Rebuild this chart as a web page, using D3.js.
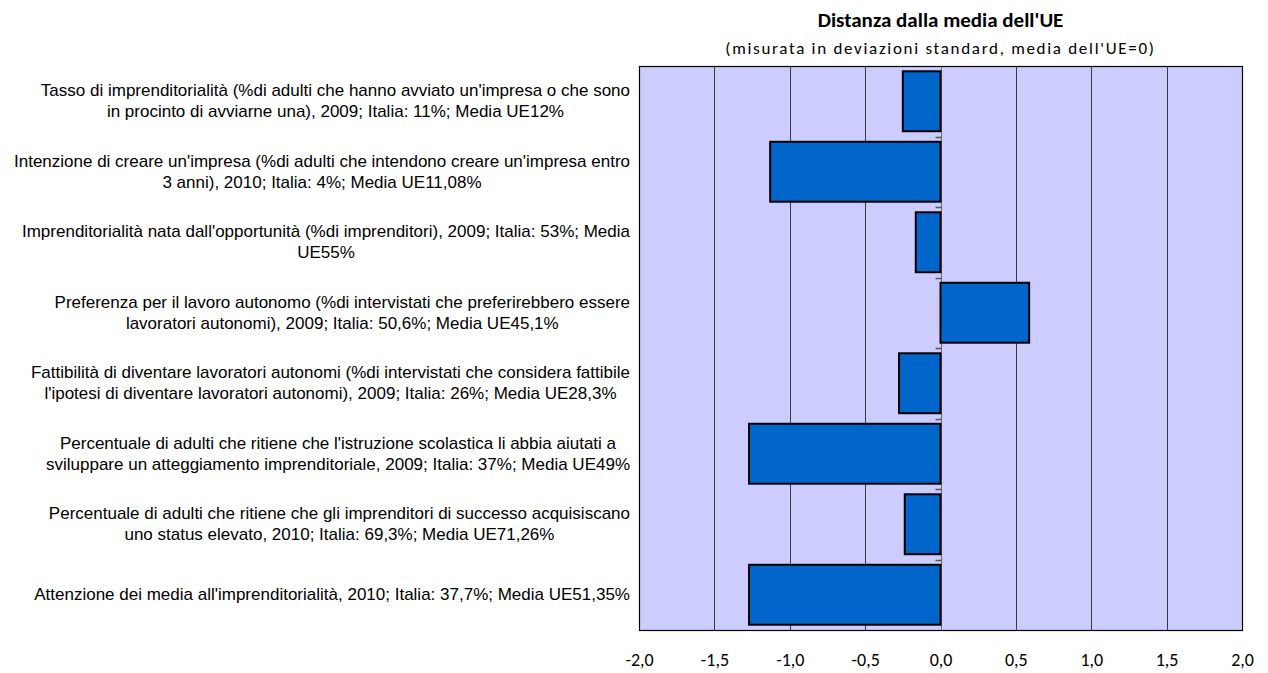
<!DOCTYPE html>
<html>
<head>
<meta charset="utf-8">
<script src="https://cdn.jsdelivr.net/npm/d3@7"></script>
<style>
  html, body { margin: 0; padding: 0; background: #ffffff; }
  svg { display: block; }
</style>
</head>
<body>
<svg id="chart" width="1268" height="673"></svg>
<script>
// ---- Data ----
const categories = [
  ["Tasso di imprenditorialità (%di adulti che hanno avviato un'impresa o che sono", "in procinto di avviarne una), 2009; Italia: 11%; Media UE12%"],
  ["Intenzione di creare un'impresa (%di adulti che intendono creare un'impresa entro", "3 anni), 2010; Italia: 4%; Media UE11,08%"],
  ["Imprenditorialità nata dall'opportunità (%di imprenditori), 2009; Italia: 53%; Media", "UE55%"],
  ["Preferenza per il lavoro autonomo (%di intervistati che preferirebbero essere", "lavoratori autonomi), 2009; Italia: 50,6%; Media UE45,1%"],
  ["Fattibilità di diventare lavoratori autonomi (%di intervistati che considera fattibile", "l'ipotesi di diventare lavoratori autonomi), 2009; Italia: 26%; Media UE28,3%"],
  ["Percentuale di adulti che ritiene che l'istruzione scolastica li abbia aiutati a", "sviluppare un atteggiamento imprenditoriale, 2009; Italia: 37%; Media UE49%"],
  ["Percentuale di adulti che ritiene che gli imprenditori di successo acquisiscano", "uno status elevato, 2010; Italia: 69,3%; Media UE71,26%"],
  ["Attenzione dei media all'imprenditorialità, 2010; Italia: 37,7%; Media UE51,35%"]
];
const values = [-0.25, -1.13, -0.164, 0.588, -0.275, -1.27, -0.237, -1.27];
const tickValues = [-2.0, -1.5, -1.0, -0.5, 0.0, 0.5, 1.0, 1.5, 2.0];
const titleText = "Distanza dalla media dell'UE";
const subtitleText = "(misurata in deviazioni standard, media dell'UE=0)";

// ---- Layout ----
const plot = { left: 639, right: 1242, top: 66, bottom: 630 };
const svg = d3.select("#chart");
const sansCal = "Carlito, Calibri, Lato, 'Open Sans', sans-serif";
const sansNarrow = "'Liberation Sans Narrow', 'Arial Narrow', 'Liberation Sans', Arial, sans-serif";

const x = d3.scaleLinear().domain([tickValues[0], tickValues[tickValues.length - 1]])
  .range([plot.left, plot.right]);
const y = d3.scaleBand().domain(d3.range(categories.length))
  .range([plot.top, plot.bottom]).paddingInner(0.15).paddingOuter(0.075);

// background
svg.append("rect")
  .attr("x", plot.left).attr("y", plot.top)
  .attr("width", plot.right - plot.left).attr("height", plot.bottom - plot.top)
  .attr("fill", "#CCCCFF");

// vertical gridlines
svg.append("g").selectAll("line")
  .data(tickValues.slice(1, -1).filter(v => v !== 0))
  .join("line")
  .attr("x1", d => Math.round(x(d)) + 0.5).attr("x2", d => Math.round(x(d)) + 0.5)
  .attr("y1", plot.top).attr("y2", plot.bottom)
  .attr("stroke", "#3a3a3a").attr("stroke-width", 1);

// zero (category axis) line
const x0 = Math.round(x(0)) + 0.5;
svg.append("line")
  .attr("x1", x0).attr("x2", x0).attr("y1", plot.top).attr("y2", plot.bottom)
  .attr("stroke", "#6b6b6b").attr("stroke-width", 1);

// category axis tick marks at band boundaries
const boundaries = d3.range(1, categories.length).map(i => plot.top + (plot.bottom - plot.top) * i / categories.length);
svg.append("g").selectAll("line")
  .data(boundaries)
  .join("line")
  .attr("x1", x0 - 6).attr("x2", x0)
  .attr("y1", d => Math.round(d) + 0.5).attr("y2", d => Math.round(d) + 0.5)
  .attr("stroke", "#555").attr("stroke-width", 1.5);

// bars
svg.append("g").selectAll("rect")
  .data(values)
  .join("rect")
  .attr("x", d => x(Math.min(0, d)))
  .attr("y", (d, i) => y(i))
  .attr("width", d => Math.abs(x(d) - x(0)))
  .attr("height", y.bandwidth())
  .attr("fill", "#0066CC")
  .attr("stroke", "#000")
  .attr("stroke-width", 2);

// plot border
svg.append("rect")
  .attr("x", plot.left + 0.5).attr("y", plot.top + 0.5)
  .attr("width", plot.right - plot.left).attr("height", plot.bottom - plot.top)
  .attr("fill", "none").attr("stroke", "#000").attr("stroke-width", 1.2);

// x axis labels
const fmt = v => d3.format(".1f")(v).replace("−", "-").replace(".", ",");
const xAxis = d3.axisBottom(x).tickValues(tickValues).tickFormat(fmt).tickSize(0).tickPadding(23);
const gx = svg.append("g").attr("transform", `translate(0,${plot.bottom})`).call(xAxis);
gx.select(".domain").remove();
gx.selectAll("text")
  .attr("font-family", sansCal).attr("font-size", 18).attr("fill", "#000");

// category labels
const labelRight = 630;
const lineH = 21;
const gl = svg.append("g");
categories.forEach((lines, i) => {
  const cy = y(i) + y.bandwidth() / 2;
  const g = gl.append("g");
  const texts = g.selectAll("text").data(lines).join("text")
    .attr("font-family", sansNarrow).attr("font-size", 17).attr("fill", "#000")
    .attr("text-anchor", "middle")
    .attr("dominant-baseline", "central")
    .attr("y", (d, j) => cy + (j - (lines.length - 1) / 2) * lineH)
    .text(d => d);
  let maxW = 0;
  texts.each(function () { maxW = Math.max(maxW, this.getComputedTextLength()); });
  texts.attr("x", labelRight - maxW / 2);
});

// titles
svg.append("text")
  .attr("x", x(0)).attr("y", 20)
  .attr("text-anchor", "middle").attr("dominant-baseline", "central")
  .attr("font-family", sansCal).attr("font-weight", "bold").attr("font-size", 21)
  .text(titleText);
svg.append("text")
  .attr("x", x(0)).attr("y", 48)
  .attr("text-anchor", "middle").attr("dominant-baseline", "central")
  .attr("font-family", sansCal).attr("font-size", 17).attr("letter-spacing", 1.7)
  .text(subtitleText);
</script>
</body>
</html>
